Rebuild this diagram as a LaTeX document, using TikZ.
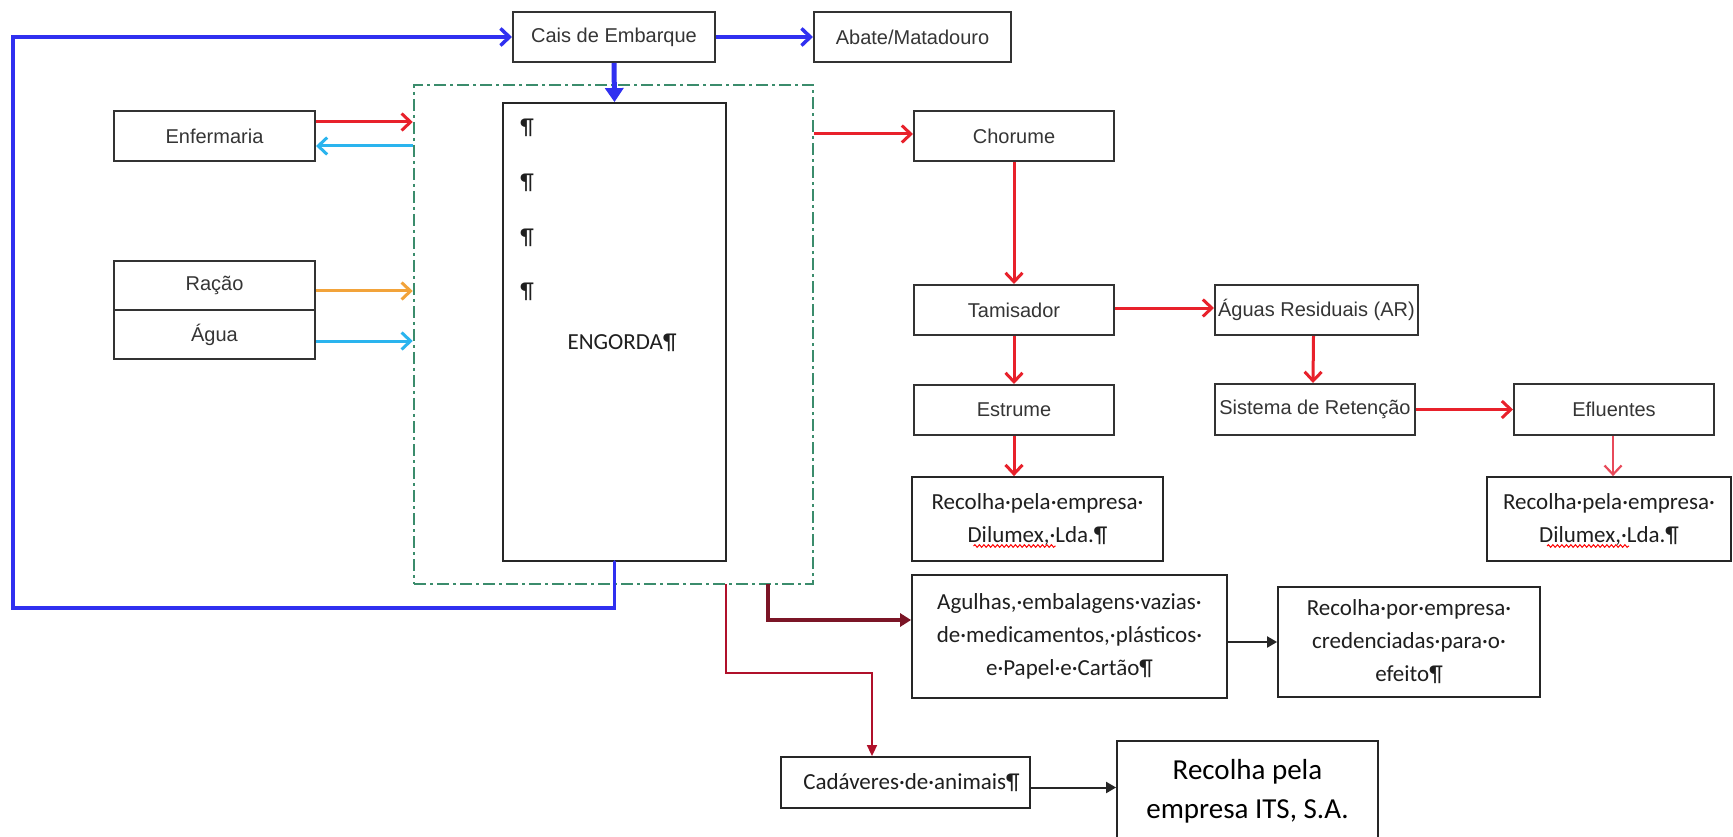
\documentclass[tikz,border=0pt]{standalone}
\usepackage{fontspec}
\setmainfont{Liberation Sans}
\newfontfamily\arialf{Liberation Sans}
\newfontfamily\calf{Carlito}
\usetikzlibrary{arrows.meta,decorations.pathmorphing}
\definecolor{myblue}{HTML}{3030F0}
\definecolor{myred}{HTML}{E8212B}
\definecolor{lightred}{HTML}{E84A5A}
\definecolor{mycyan}{HTML}{2AB4EE}
\definecolor{myorange}{HTML}{F2A33A}
\definecolor{maroon}{HTML}{7B1526}
\definecolor{crimson}{HTML}{B0102A}
\definecolor{ddgreen}{HTML}{3B8C6C}
\definecolor{boxgray}{HTML}{333333}
\definecolor{textgray}{HTML}{353535}
\tikzset{
  abox/.style={draw=boxgray, line width=2pt, inner sep=0pt, text=textgray,
    font=\arialf\fontsize{20}{24}\selectfont},
  cbox/.style={draw=black!85, line width=1.8pt, inner sep=0pt, align=center, text=black!88,
    font=\calf\fontsize{23}{33}\selectfont},
  plain/.style={inner sep=0pt, text=black!88, font=\calf\fontsize{23}{27}\selectfont},
  barb/.style={-{Straight Barb[length=9pt,width=17pt]}},
  bluearr/.style={draw=myblue, line width=3.5pt, barb},
  redarr/.style={draw=myred, line width=3pt, barb},
  cyanarr/.style={draw=mycyan, line width=3pt, barb},
  orangearr/.style={draw=myorange, line width=3pt, barb},
  lredarr/.style={draw=lightred, line width=2.2pt, barb},
  maroonarr/.style={draw=maroon, line width=4.5pt, -{Triangle[length=11pt,width=13pt]}},
  crimsonarr/.style={draw=crimson, line width=1.6pt, -{Triangle[length=11pt,width=10pt]}},
  blackarr/.style={draw=black!85, line width=2pt, -{Triangle[length=10pt,width=11pt]}},
  dashdot/.style={draw=ddgreen, line width=2.5pt, dash pattern=on 12pt off 4pt on 3pt off 4pt},
  squig/.style={draw=red, line width=1pt, decorate, decoration={snake, amplitude=1.3pt, segment length=4.5pt}},
}
\begin{document}
\begin{tikzpicture}[x=1pt,y=-1pt]
\useasboundingbox (0,0) rectangle (1733,837);
\fill[white] (0,0) rectangle (1733,837);

% dash-dot enclosure and ENGORDA
\node[dashdot, minimum width=399pt, minimum height=499pt, inner sep=0pt] (dd) at (613.5,334.5) {};
\node[draw=black!85, line width=1.8pt, minimum width=223pt, minimum height=458pt, inner sep=0pt] (engorda) at (614.5,332) {};
\node[plain] (p1) at (527,128) {¶};
\node[plain] (p2) at (527,183) {¶};
\node[plain] (p3) at (527,238) {¶};
\node[plain] (p4) at (527,292) {¶};
\node[plain] (englabel) at (622,343) {ENGORDA¶};

% Arial boxes
\node[abox, minimum width=202pt, minimum height=50pt] (cais) at (614,37) {Cais de Embarque};
\node[abox, minimum width=197pt, minimum height=50pt] (abate) at (912.5,37) {Abate/Matadouro};
\node[abox, minimum width=201pt, minimum height=50pt] (enf) at (214.5,136) {Enfermaria};
\node[abox, minimum width=201pt, minimum height=49pt] (racao) at (214.5,285.5) {Ração};
\node[abox, minimum width=201pt, minimum height=49pt] (agua) at (214.5,334.5) {Água};
\node[abox, minimum width=200pt, minimum height=50pt] (chorume) at (1014,136) {Chorume};
\node[abox, minimum width=200pt, minimum height=50pt] (tamis) at (1014,310) {Tamisador};
\node[abox, minimum width=203pt, minimum height=50pt] (aguas) at (1316.5,310) {Águas Residuais (AR)};
\node[abox, minimum width=200pt, minimum height=50pt] (estrume) at (1014,410) {Estrume};
\node[abox, minimum width=200pt, minimum height=51pt] (sist) at (1315,409.5) {Sistema de Retenção};
\node[abox, minimum width=200pt, minimum height=51pt] (eflu) at (1614,409.5) {Efluentes};

% Calibri boxes
\node[cbox, minimum width=251pt, minimum height=84pt] (rec1) at (1037.5,519) {Recolha·pela·empresa·\\Dilumex,·Lda.¶};
\node[cbox, minimum width=244pt, minimum height=84pt] (rec2) at (1609,519) {Recolha·pela·empresa·\\Dilumex,·Lda.¶};
\node[cbox, minimum width=315pt, minimum height=123pt] (agul) at (1069.5,636.5) {Agulhas,·embalagens·vazias·\\de·medicamentos,·plásticos·\\e·Papel·e·Cartão¶};
\node[cbox, minimum width=262pt, minimum height=110pt] (rec3) at (1409,642) {Recolha·por·empresa·\\credenciadas·para·o·\\efeito¶};
\node[cbox, minimum width=249pt, minimum height=51pt] (cad) at (905.5,782.5) {\hspace*{12pt}Cadáveres·de·animais¶};
\node[cbox, minimum width=261pt, minimum height=101pt, font=\calf\fontsize{29}{39}\selectfont, text=black] (its) at (1247.5,791.5) {Recolha pela\\empresa ITS, S.A.};

% squiggly underlines
\draw[squig] ([xshift=-64pt,yshift=-27pt]rec1.center) -- ([xshift=18pt,yshift=-27pt]rec1.center);
\draw[squig] ([xshift=-62pt,yshift=-27pt]rec2.center) -- ([xshift=20pt,yshift=-27pt]rec2.center);

% coordinates for free ends
\coordinate (bl) at (13,608);
\coordinate (mtop) at (768,584);
\coordinate (ctop) at (726,584);
\coordinate (cmid) at (872,673);

% blue flows
\draw[bluearr, line cap=round] (engorda.south) |- (bl) |- (cais.west);
\draw[bluearr] (cais.east) -- (abate.west);
\draw[draw=myblue, line width=5pt, -{Triangle[length=14pt,width=18pt]}] (cais.south) -- (engorda.north);

% left side inputs
\draw[redarr] ([yshift=14pt]enf.east) -- ([yshift=14pt]enf.east -| dd.west);
\draw[cyanarr] ([yshift=-10pt]enf.east -| dd.west) -- ([yshift=-10pt]enf.east);
\draw[orangearr] ([yshift=-5.5pt]racao.east) -- ([yshift=-5.5pt]racao.east -| dd.west);
\draw[cyanarr] ([yshift=-6.5pt]agua.east) -- ([yshift=-6.5pt]agua.east -| dd.west);

% right side chain
\draw[redarr] ([yshift=2pt]chorume.west -| dd.east) -- ([yshift=2pt]chorume.west);
\draw[redarr] (chorume.south) -- (tamis.north);
\draw[redarr] ([yshift=2pt]tamis.east) -- ([yshift=2pt]aguas.west);
\draw[redarr] (tamis.south) -- (estrume.north);
\draw[redarr] (estrume.south) -- (rec1.north -| estrume.south);
\draw[redarr] ([xshift=-3pt]aguas.south) -- ([xshift=-2pt]sist.north);
\draw[redarr] (sist.east) -- (eflu.west);
\draw[lredarr] ([xshift=-1pt]eflu.south) -- ([xshift=-1pt]eflu.south |- rec2.north);

% bottom flows
\draw[maroonarr] (mtop) |- ([yshift=16.5pt]agul.west);
\draw[crimsonarr] (ctop) |- (cmid) -- (cmid |- cad.north);
\draw[blackarr] (agul.east |- rec3.west) -- (rec3.west);
\draw[blackarr] ([yshift=-5pt]cad.east) -- ([yshift=-5pt]cad.east -| its.west);
\end{tikzpicture}
\end{document}
